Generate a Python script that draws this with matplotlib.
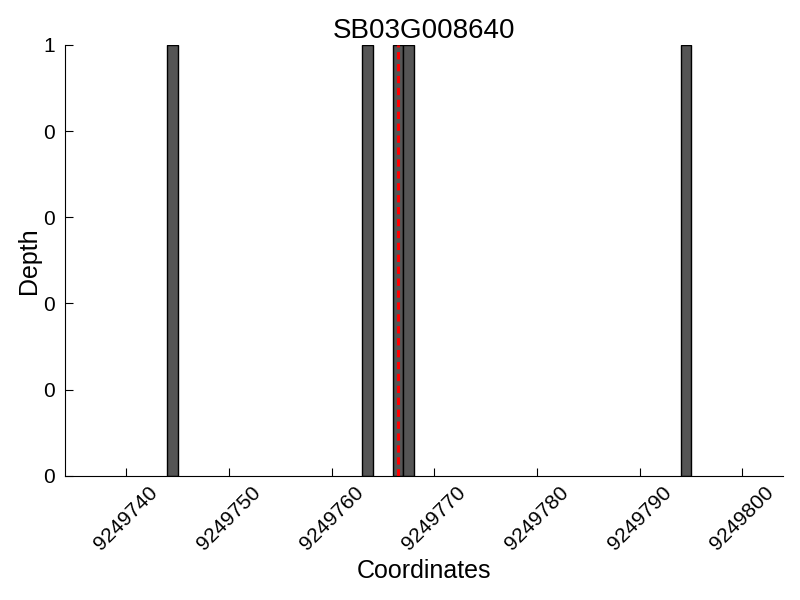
import numpy as np
import matplotlib
matplotlib.use('Agg')
import matplotlib.pyplot as plt
from matplotlib.ticker import FormatStrFormatter

plt.rcParams['font.family'] = ['Liberation Sans', 'DejaVu Sans']

# read-depth per coordinate (only non-zero positions shown)
coords = [9249744, 9249763, 9249766, 9249767, 9249794]
depth = [1, 1, 1, 1, 1]
snp_pos = 9249766.5
gene = 'SB03G008640'

fig = plt.figure(figsize=(8, 6), dpi=100)
ax = fig.add_axes([0.081, 0.207, 0.898, 0.718])

ax.bar(coords, depth, width=1, align='edge', color='#555555',
       edgecolor='black', linewidth=1)
ax.axvline(snp_pos, color='red', linestyle='--', linewidth=2.2, dashes=(2.4, 1.5))

ax.set_xlim(9249734, 9249804)
ax.set_ylim(0, 1)
ax.set_xticks(np.arange(9249740, 9249801, 10))
ax.set_yticks(np.arange(0, 1.01, 0.2))
ax.yaxis.set_major_formatter(FormatStrFormatter('%d'))
ax.xaxis.set_major_formatter(FormatStrFormatter('%d'))

ax.spines['top'].set_visible(False)
ax.spines['right'].set_visible(False)
ax.tick_params(direction='in', length=6, labelsize=15, pad=7)
ax.tick_params(axis='x', rotation=45, pad=5)
for lab in ax.get_xticklabels():
    lab.set_ha('center')

ax.set_title(gene, fontsize=20, pad=5)
ax.set_xlabel('Coordinates', fontsize=18, labelpad=4)
ax.set_ylabel('Depth', fontsize=18, labelpad=2)

plt.savefig('out.png', dpi=100)
